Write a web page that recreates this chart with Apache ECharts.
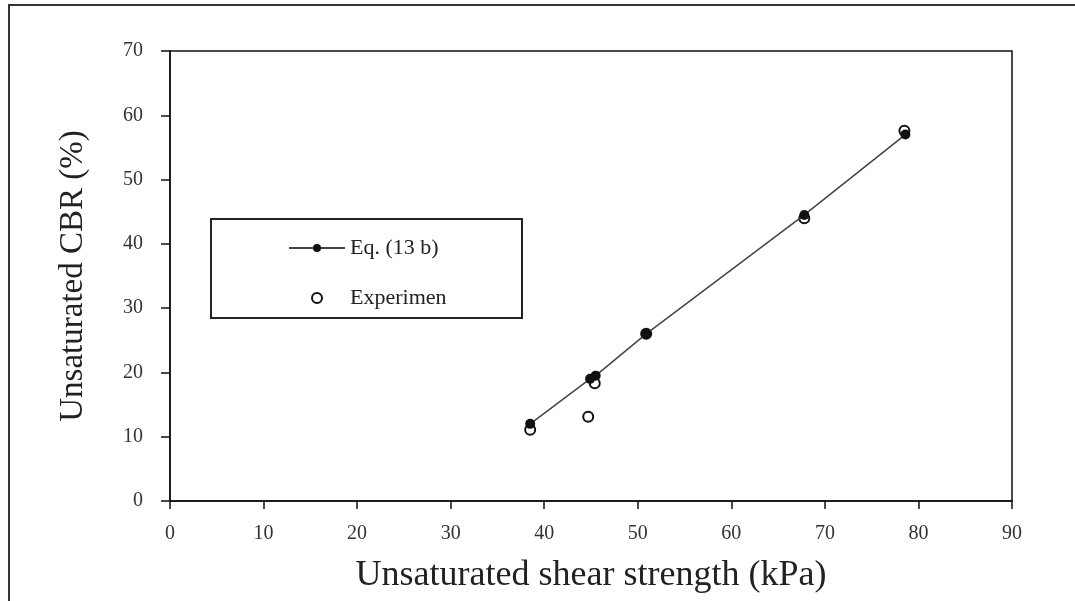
<!DOCTYPE html>
<html>
<head>
<meta charset="utf-8">
<script src="https://cdn.jsdelivr.net/npm/echarts@6/dist/echarts.min.js"></script>
<style>
  html, body { margin: 0; padding: 0; background: #fff; }
  #chart { width: 1075px; height: 601px; }
</style>
</head>
<body>
<div id="chart"></div>
<script>
// values
var eqX = [38.5, 44.9, 45.5, 50.9, 67.8, 78.6];
var eqY = [12.0, 19.0, 19.5, 26.0, 44.5, 57.0];
var expX = [38.5, 44.7, 45.4, 50.9, 67.8, 78.5];
var expY = [11.1, 13.1, 18.3, 26.0, 44.0, 57.6];

var eqData = eqX.map(function (x, i) { return [x, eqY[i]]; });
var expData = expX.map(function (x, i) { return [x, expY[i]]; });

var serif = '"Liberation Serif", "Times New Roman", serif';

var myChart = echarts.init(document.getElementById('chart'));

var option = {
  backgroundColor: '#fff',
  animation: false,
  grid: {
    left: 170,
    right: 63,
    top: 51,
    bottom: 100,
    show: true,
    borderColor: '#111',
    borderWidth: 1.5,
    backgroundColor: 'transparent'
  },
  graphic: [
    {
      type: 'rect',
      shape: { x: 9, y: 5, width: 1090, height: 620 },
      style: { fill: 'none', stroke: '#333', lineWidth: 2 }
    },
    {
      type: 'rect',
      shape: { x: 211, y: 219, width: 311, height: 99 },
      style: { fill: '#fff', stroke: '#222', lineWidth: 2 },
      z: 5
    }
  ],
  legend: {
    orient: 'vertical',
    left: 283,
    top: 232,
    itemGap: 28,
    itemWidth: 56,
    itemHeight: 10,
    z: 10,
    textStyle: { fontFamily: serif, fontSize: 22, color: '#222' },
    data: ['Eq. (13 b)', 'Experimen']
  },
  xAxis: {
    type: 'value',
    min: 0,
    max: 90,
    interval: 10,
    name: 'Unsaturated shear strength (kPa)',
    nameLocation: 'middle',
    nameGap: 57,
    nameTextStyle: { fontFamily: serif, fontSize: 36, color: '#222' },
    axisLine: { show: true, lineStyle: { color: '#111', width: 1.5 } },
    axisTick: { show: true, inside: false, length: 8, lineStyle: { color: '#111', width: 1.5 } },
    axisLabel: { fontFamily: serif, fontSize: 20, color: '#333', margin: 23 },
    splitLine: { show: false }
  },
  yAxis: {
    type: 'value',
    min: 0,
    max: 70,
    interval: 10,
    name: 'Unsaturated CBR (%)',
    nameLocation: 'middle',
    nameGap: 80,
    nameTextStyle: { fontFamily: serif, fontSize: 33, color: '#222' },
    axisLine: { show: true, lineStyle: { color: '#111', width: 1.5 } },
    axisTick: { show: true, inside: false, length: 9, lineStyle: { color: '#111', width: 1.5 } },
    axisLabel: { fontFamily: serif, fontSize: 20, color: '#333', margin: 27 },
    splitLine: { show: false }
  },
  series: [
    {
      name: 'Eq. (13 b)',
      type: 'line',
      data: eqData,
      symbol: 'circle',
      symbolSize: 10,
      showAllSymbol: true,
      itemStyle: { color: '#111' },
      lineStyle: { color: '#444', width: 1.5 },
      z: 4
    },
    {
      name: 'Experimen',
      type: 'scatter',
      data: expData,
      symbol: 'emptyCircle',
      symbolSize: 10,
      itemStyle: { color: '#111', opacity: 1, borderWidth: 1.8 },
      z: 3
    }
  ]
};

myChart.setOption(option);
</script>
</body>
</html>
